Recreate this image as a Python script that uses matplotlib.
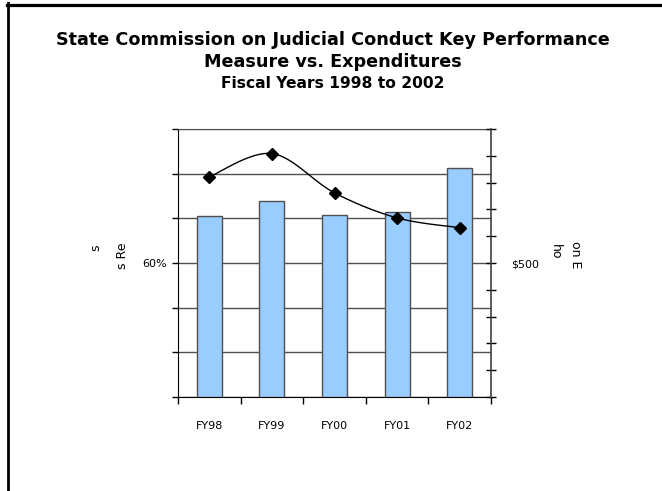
import numpy as np
import matplotlib.pyplot as plt
from matplotlib.lines import Line2D

# data
years = ['FY98', 'FY99', 'FY00', 'FY01', 'FY02']
expenditures = [676, 732, 680, 690, 853]          # right axis (bars)
performance = [0.793, 0.845, 0.757, 0.701, 0.679]  # left axis (line)

left_ticks = [0.3, 0.4, 0.5, 0.6, 0.7, 0.8, 0.9]
left_labels = ['', '', '', '60%', '', '', '']
right_ticks = [0, 100, 200, 300, 400, 500, 600, 700, 800, 900, 1000]
right_labels = ['', '', '', '', '', '$500', '', '', '', '', '']


def smooth(xs, ys, n=30):
    # catmull-rom style smoothing, like a spreadsheet "smoothed line"
    xs = np.asarray(xs, float)
    ys = np.asarray(ys, float)
    px = np.concatenate([[xs[0]], xs, [xs[-1]]])
    py = np.concatenate([[ys[0]], ys, [ys[-1]]])
    outx, outy = [], []
    for i in range(1, len(px) - 2):
        t = np.linspace(0, 1, n)
        for p, out in ((px, outx), (py, outy)):
            p0, p1, p2, p3 = p[i - 1], p[i], p[i + 1], p[i + 2]
            out.extend(0.5 * (2 * p1 + (-p0 + p2) * t
                              + (2 * p0 - 5 * p1 + 4 * p2 - p3) * t ** 2
                              + (-p0 + 3 * p1 - 3 * p2 + p3) * t ** 3))
    return np.array(outx), np.array(outy)


fig = plt.figure(figsize=(6.62, 4.91), dpi=100)
fig.patch.set_facecolor('white')

# frame lines (top + left only)
fig.add_artist(Line2D([7 / 662, 1], [1 - 4.5 / 491] * 2, color='black', lw=2.3))
fig.add_artist(Line2D([8 / 662] * 2, [0, 1 - 3 / 491], color='black', lw=2.0))

fig.text(0.503, 1 - 40 / 491, 'State Commission on Judicial Conduct Key Performance',
         ha='center', va='center', fontsize=12.7, fontweight='bold')
fig.text(0.503, 1 - 62 / 491, 'Measure vs. Expenditures',
         ha='center', va='center', fontsize=12.7, fontweight='bold')
fig.text(0.503, 1 - 83 / 491, 'Fiscal Years 1998 to 2002',
         ha='center', va='center', fontsize=11.2, fontweight='bold')

ax1 = fig.add_axes([178 / 662, 1 - 397 / 491, 313 / 662, 268 / 491])
x = np.arange(len(years))

ax1.set_xlim(-0.5, len(years) - 0.5)
ax1.set_ylim(left_ticks[0], left_ticks[-1])
ax1.set_yticks(left_ticks)
ax1.set_yticklabels(left_labels, fontsize=8)
ax1.yaxis.grid(True, color='#505050', lw=1)
ax1.set_axisbelow(True)
ax1.tick_params(axis='y', direction='out', length=4, width=1, pad=4)
ax1.set_xticks(x)
ax1.set_xticklabels(years, fontsize=8)
ax1.set_xticks(np.arange(len(years) + 1) - 0.5, minor=True)
ax1.tick_params(axis='x', which='major', length=0, pad=17)
ax1.tick_params(axis='x', which='minor', direction='out', length=5, width=1)
ax1.spines['top'].set_color('#505050')
ax1.spines['right'].set_visible(False)

ax2 = ax1.twinx()
ax2.bar(x, expenditures, width=0.4, color='#99CCFF', edgecolor='#505050', lw=1)
ax2.set_ylim(right_ticks[0], right_ticks[-1])
ax2.set_yticks(right_ticks)
ax2.set_yticklabels(right_labels, fontsize=8)
ax2.tick_params(axis='y', direction='inout', length=7, width=1, pad=11)
ax2.spines['right'].set_color('#404040')
ax2.spines['right'].set_linewidth(1.2)
for s in ('top', 'left', 'bottom'):
    ax2.spines[s].set_visible(False)

ax3 = ax1.twinx()
ax3.set_ylim(ax1.get_ylim())
sx, sy = smooth(x, performance)
ax3.plot(sx, sy, color='black', lw=1)
ax3.plot(x, performance, ls='none', marker='D', ms=6, color='black')
ax3.axis('off')

# clipped axis titles as they appear in the reference
fig.text(96 / 662, 1 - 248 / 491, 's', rotation=90, ha='center', va='center', fontsize=9)
fig.text(122 / 662, 1 - 256 / 491, 's Re', rotation=90, ha='center', va='center', fontsize=9)
fig.text(555 / 662, 1 - 252 / 491, 'ho', rotation=270, ha='center', va='center', fontsize=9)
fig.text(576 / 662, 1 - 255 / 491, 'on E', rotation=270, ha='center', va='center', fontsize=9)

fig.savefig('out.png', dpi=100)
